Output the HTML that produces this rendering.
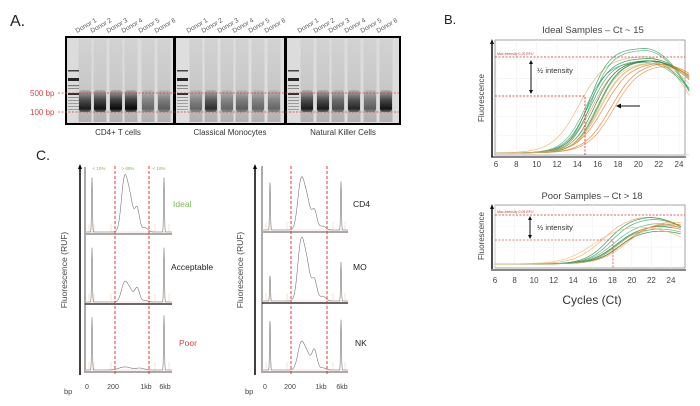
<!DOCTYPE html>
<html><head><meta charset="utf-8"><style>
html,body{margin:0;padding:0;background:#fff;}
svg{display:block;font-family:"Liberation Sans",sans-serif;}
</style></head><body>
<svg id="s" width="700" height="406" viewBox="0 0 700 406" xmlns="http://www.w3.org/2000/svg">
<defs>
<linearGradient id="lane" x1="0" y1="0" x2="0" y2="1">
<stop offset="0" stop-color="#d2d2d2"/><stop offset="0.6" stop-color="#c8c8c8"/><stop offset="1" stop-color="#b0b0b0"/>
</linearGradient>
<linearGradient id="band" x1="0" y1="0" x2="0" y2="1">
<stop offset="0" stop-color="#000" stop-opacity="0.15"/><stop offset="0.45" stop-color="#000" stop-opacity="0.7"/><stop offset="0.85" stop-color="#000" stop-opacity="1"/><stop offset="1" stop-color="#000" stop-opacity="0.5"/>
</linearGradient>
</defs>
<rect width="700" height="406" fill="#fff"/>
<text x="10" y="26" font-size="16" fill="#222">A.</text>
<rect x="65" y="36" width="336" height="89" fill="#000"/>
<rect x="67" y="38" width="106" height="85" fill="#dcdcdc"/>
<rect x="176" y="38" width="108" height="85" fill="#dedede"/>
<rect x="287" y="38" width="112" height="85" fill="#dcdcdc"/>
<g id="gel"></g>
<g font-size="6.5" fill="#555" id="donors"></g>
<line x1="58" y1="93" x2="399" y2="93" stroke="#d33" stroke-width="1" stroke-dasharray="2,1.5" opacity="0.7"/>
<line x1="58" y1="112" x2="399" y2="112" stroke="#d33" stroke-width="1" stroke-dasharray="2,1.5" opacity="0.7"/>
<text x="30" y="96" font-size="8" fill="#d44">500 bp</text>
<text x="30" y="115" font-size="8" fill="#d44">100 bp</text>
<g font-size="8" fill="#333" text-anchor="middle">
<text x="118" y="135">CD4+ T cells</text>
<text x="230" y="135">Classical Monocytes</text>
<text x="343" y="135">Natural Killer Cells</text>
</g>
<text x="444" y="24" font-size="13" fill="#222">B.</text>
<text x="593" y="33" font-size="9.5" fill="#444" text-anchor="middle">Ideal Samples – Ct ~ 15</text>
<rect x="495" y="40" width="190" height="115" fill="#fff" stroke="#666" stroke-width="0.6"/>
<g id="gridTop"></g>
<g id="curvesTop"></g>
<line x1="495" y1="57" x2="685" y2="57" stroke="#c33" stroke-width="0.8" stroke-dasharray="2,1.5"/>
<text x="497" y="55" font-size="3.5" fill="#c33" font-style="italic">Max intensity 0.20 RFU</text>
<polyline points="495,96 585,96 585,155" fill="none" stroke="#d22" stroke-width="0.8" stroke-dasharray="2,1.5"/>
<line x1="531" y1="63" x2="531" y2="92" stroke="#111" stroke-width="1"/>
<polygon points="531,60 529,64 533,64" fill="#111"/><polygon points="531,94 529,90 533,90" fill="#111"/>
<text x="537" y="73" font-size="7.5" fill="#333">½ intensity</text>
<line x1="621" y1="106" x2="640" y2="106" stroke="#111" stroke-width="1"/>
<polygon points="616,106 621,103.5 621,108.5" fill="#111"/>
<line x1="492" y1="42" x2="492" y2="157" stroke="#111" stroke-width="1.5"/>
<line x1="491" y1="157" x2="686" y2="157" stroke="#111" stroke-width="1"/>
<polygon points="492,39 490,44 494,44" fill="#111"/>
<text transform="translate(484,98) rotate(-90)" font-size="8" fill="#444" text-anchor="middle">Fluorescence</text>
<g id="ticksTop" font-size="8" fill="#444" text-anchor="middle"></g>

<text x="592" y="199" font-size="9.5" fill="#444" text-anchor="middle">Poor Samples – Ct &gt; 18</text>
<rect x="495" y="205" width="190" height="63" fill="#fff" stroke="#666" stroke-width="0.6"/>
<g id="gridBot"></g>
<g id="curvesBot"></g>
<line x1="495" y1="215" x2="685" y2="215" stroke="#c33" stroke-width="0.8" stroke-dasharray="2,1.5"/>
<text x="497" y="213" font-size="3.5" fill="#c33" font-style="italic">Max intensity 0.05 RFU</text>
<polyline points="495,240 613,240 613,268" fill="none" stroke="#d55" stroke-width="0.8" stroke-dasharray="2,1.5"/>
<line x1="530" y1="218" x2="530" y2="237" stroke="#111" stroke-width="1"/>
<polygon points="530,216 528,220 532,220" fill="#111"/><polygon points="530,239 528,235 532,235" fill="#111"/>
<text x="537" y="230" font-size="7.5" fill="#333">½ intensity</text>
<line x1="492" y1="207" x2="492" y2="269" stroke="#111" stroke-width="1.5"/>
<line x1="491" y1="270" x2="686" y2="270" stroke="#111" stroke-width="1"/>
<polygon points="492,204 490,209 494,209" fill="#111"/>
<text transform="translate(484,236) rotate(-90)" font-size="8" fill="#444" text-anchor="middle">Fluorescence</text>
<g id="ticksBot" font-size="8" fill="#444" text-anchor="middle"></g>
<text x="592" y="304" font-size="12" fill="#333" text-anchor="middle">Cycles (Ct)</text>

<text x="36" y="160" font-size="14" fill="#222">C.</text>
<g id="epL"></g>
<g id="epR"></g>
<line x1="80" y1="168" x2="80" y2="375" stroke="#000" stroke-width="1.5"/>
<polygon points="80,164 78,169 82,169" fill="#000"/>
<line x1="255" y1="168" x2="255" y2="375" stroke="#000" stroke-width="1.5"/>
<polygon points="255,164 253,169 257,169" fill="#000"/>
<text transform="translate(67,270) rotate(-90)" font-size="8.5" fill="#444" text-anchor="middle">Fluorescence (RUF)</text>
<text transform="translate(243,270) rotate(-90)" font-size="8.5" fill="#444" text-anchor="middle">Fluorescence (RUF)</text>
<g font-size="4.5" fill="#7b5" text-anchor="middle">
<text x="99" y="170">&lt; 10%</text><text x="128" y="170">&gt; 85%</text><text x="159" y="170">&lt; 10%</text>
</g>
<text x="173" y="207" font-size="8.5" fill="#7b5">Ideal</text>
<text x="171" y="270" font-size="8.5" fill="#222">Acceptable</text>
<text x="179" y="346" font-size="8.5" fill="#d44">Poor</text>
<text x="353" y="207" font-size="8.5" fill="#222">CD4</text>
<text x="353" y="270" font-size="8.5" fill="#222">MO</text>
<text x="355" y="346" font-size="8.5" fill="#222">NK</text>
<g font-size="7" fill="#444" text-anchor="middle">
<text x="87" y="389">0</text><text x="113" y="389">200</text><text x="146" y="389">1kb</text><text x="165" y="389">6kb</text>
<text x="265" y="389">0</text><text x="290" y="389">200</text><text x="321" y="389">1kb</text><text x="342" y="389">6kb</text>
</g>
<text x="64" y="394" font-size="7.5" fill="#444">bp</text>
<text x="245" y="394" font-size="7.5" fill="#444">bp</text>
</svg>
<script>
const NS="http://www.w3.org/2000/svg";
function el(p,t,a){const e=document.createElementNS(NS,t);for(const k in a)e.setAttribute(k,a[k]);document.getElementById(p).appendChild(e);return e;}
const gels=[{x0:67,lanes:[85,100,116,131,148,164],ints:[.85,.9,.95,.95,.45,.5]},
{x0:176,lanes:[196,211,227,242,258,274],ints:[.45,.75,.45,.5,.45,.45]},
{x0:287,lanes:[307,323,338,354,370,386],ints:[.85,.85,.6,.8,.5,.9]}];
gels.forEach(g=>{
 g.lanes.forEach((x,i)=>{
  el('gel','rect',{x:x-6.5,y:39,width:13,height:83,fill:'url(#lane)'});
  el('gel','rect',{x:x-6,y:90,width:12,height:22,rx:3,fill:'url(#band)',opacity:g.ints[i]});
 });
 const lx=g.x0+6;
 [[70,1.5,.75],[78,3,.9],[85,1.2,.5],[88,1,.4],[93,2,.85],[97,1,.35],[100,1,.35],[103,1,.3],[106,1,.3],[109,1,.3]].forEach(b=>{
  el('gel','rect',{x:lx-5,y:b[0],width:11,height:b[1],fill:'#111',opacity:b[2]});
 });
 g.lanes.forEach((x,i)=>{
  const t=el('donors','text',{x:x-8,y:33,transform:`rotate(-30 ${x-8} 33)`});t.textContent='Donor '+(i+1);
 });
});
function ticks(id,x0,x1,y){for(let c=6;c<=24;c+=2){const t=el(id,'text',{x:x0+(c-6)*(x1-x0)/18,y:y});t.textContent=c;}}
ticks('ticksTop',496,679,167);ticks('ticksBot',495,671,283);
function grid(id,x0,x1,y0,y1,ny){for(let c=6;c<=24;c+=2){const x=x0+(c-6)*(x1-x0)/18;el(id,'line',{x1:x,y1:y0,x2:x,y2:y1,stroke:'#eee','stroke-width':.5});}
 for(let i=1;i<ny;i++){const y=y0+i*(y1-y0)/ny;el(id,'line',{x1:495,y1:y,x2:685,y2:y,stroke:'#eee','stroke-width':.5});}}
grid('gridTop',496,679,40,155,6);grid('gridBot',495,671,205,268,3);
function curve(id,x0,x1,yb,yt,c,s,pk,dec,col,w){
 let d='';for(let ct=6;ct<=25;ct+=0.2){let v=1/(1+Math.exp(-(ct-c)/s));const e=Math.max(0,ct-pk);v*=1-dec*e*e;
  const x=x0+(ct-6)*(x1-x0)/18,y=yb-(yb-yt)*v;d+=(d?'L':'M')+x.toFixed(1)+','+y.toFixed(1);}
 el(id,'path',{d:d,fill:'none',stroke:col,'stroke-width':w||.7,opacity:.85});}
const G=['#1a8a4a','#2e9e5e','#4bb07a','#137a3a'],O=['#e8913a','#f0a860','#d87a20','#f4b878'];
const topC=[[14.2,1.3,20.5,.02,56,O[1]],[14.8,1.1,20.5,.015,62,G[2]],[15.1,1.1,20.8,.012,58,G[0]],[15.3,1.1,20.5,.015,60,G[1]],[15.5,1.2,21,.012,60,O[0]],[15.7,1.1,20.8,.01,60,G[3]],[15.9,1.2,21,.015,62,O[3]],[16.1,1.1,20.8,.012,60,G[2]],[15.4,1.0,20.5,.02,50,G[2]],[15.2,1.0,20.5,.02,48,G[1]],[16.3,1.2,21,.01,62,O[1]],[16.6,1.3,21.2,.01,62,O[2]],[17.3,1.3,21.5,.01,62,O[2]],[17.6,1.3,21.5,.01,64,O[0]],[16,1.1,20.8,.012,60,G[0]],[16.2,1.2,21,.012,62,O[3]]];
topC.forEach(p=>curve('curvesTop',496,679,153,p[4],p[0],p[1],p[2],p[3],p[5]));
curve('curvesTop',496,679,155,152,30,2,40,0,'#bbb',.6);
const botC=[[17,1.4,20.5,.012,215,O[1]],[17.6,1.2,21.2,.015,216,G[0]],[17.9,1.2,21.5,.015,218,G[1]],[18.2,1.3,21.8,.013,222,G[2]],[18.4,1.3,22,.012,225,G[3]],[18.7,1.3,22.3,.012,224,O[0]],[19,1.3,22.5,.012,226,O[3]],[19.2,1.4,22.7,.01,222,O[2]],[18.3,1.2,22,.012,228,G[2]],[18.6,1.2,22,.012,230,G[0]],[19.6,1.4,23,.01,220,O[1]],[16,1.5,19.5,.01,225,O[3]]];
botC.forEach(p=>curve('curvesBot',495,671,264,p[4],p[0],p[1],p[2],p[3],p[5]));
function ep(gid,x0,x1,y0,y1,ladX,mkX,hump,ladH,mkH,black,r0,r1){
 el(gid,'line',{x1:x0,y1:y0,x2:x0,y2:y1,stroke:'#aaa','stroke-width':2});
 el(gid,'line',{x1:x0,y1:y1-1,x2:x1,y2:y1-1,stroke:black?'#111':'#aaa','stroke-width':black?1.2:2});
 el(gid,'line',{x1:x0,y1:y1-3,x2:x1,y2:y1-3,stroke:'#f5c0c0','stroke-width':.6});
 [x0+4,x0+9,r0-4,r1+6,x1-3].forEach(x=>el(gid,'line',{x1:x,y1:y1-3,x2:x,y2:y1-11,stroke:'#f7d0b0','stroke-width':.6}));
 let d='';const H=y1-y0-6;
 for(let x=x0+1;x<=x1;x+=0.3){let v=0;
  v+=ladH*Math.exp(-Math.pow((x-ladX)/0.6,2));v+=mkH*Math.exp(-Math.pow((x-mkX)/0.6,2));
  hump.forEach(h=>{v+=h[1]*Math.exp(-Math.pow((x-h[0])/h[2],2));});
  d+=(d?'L':'M')+x.toFixed(1)+','+(y1-3-v*H).toFixed(1);}
 el(gid,'path',{d:d,fill:'none',stroke:'#777','stroke-width':.6});
}
function hmp(r0,r1,a,b){const w=r1-r0;return [[r0+w*.28,a,w*.13],[r0+w*.45,a*.55,w*.12],[r0+w*.65,b,w*.1],[r0+w*.88,a*.08,w*.12]];}
ep('epL',85,172,167,235,92,164,hmp(115,149,.85,.38),.88,.88,false,115,149);
ep('epL',85,172,235,305,92,164,hmp(115,149,.3,.22),.85,.85,true,115,149);
ep('epL',85,172,305,373,92,164,[[125,.05,8],[140,.03,6]],.85,.88,false,115,149);
ep('epR',262,348,166,233,270,341,hmp(291,327,.8,.32),.8,.8,false,291,327);
ep('epR',262,348,233,304,270,341,hmp(291,327,.9,.32),.4,.6,true,291,327);
ep('epR',262,348,304,373,270,341,hmp(291,327,.42,.32),.8,.8,false,291,327);
[115,149,291,327].forEach(x=>el('epR','line',{x1:x,y1:166,x2:x,y2:375,stroke:'#e22','stroke-width':.9,'stroke-dasharray':'3,2'}));
</script>
</body></html>
